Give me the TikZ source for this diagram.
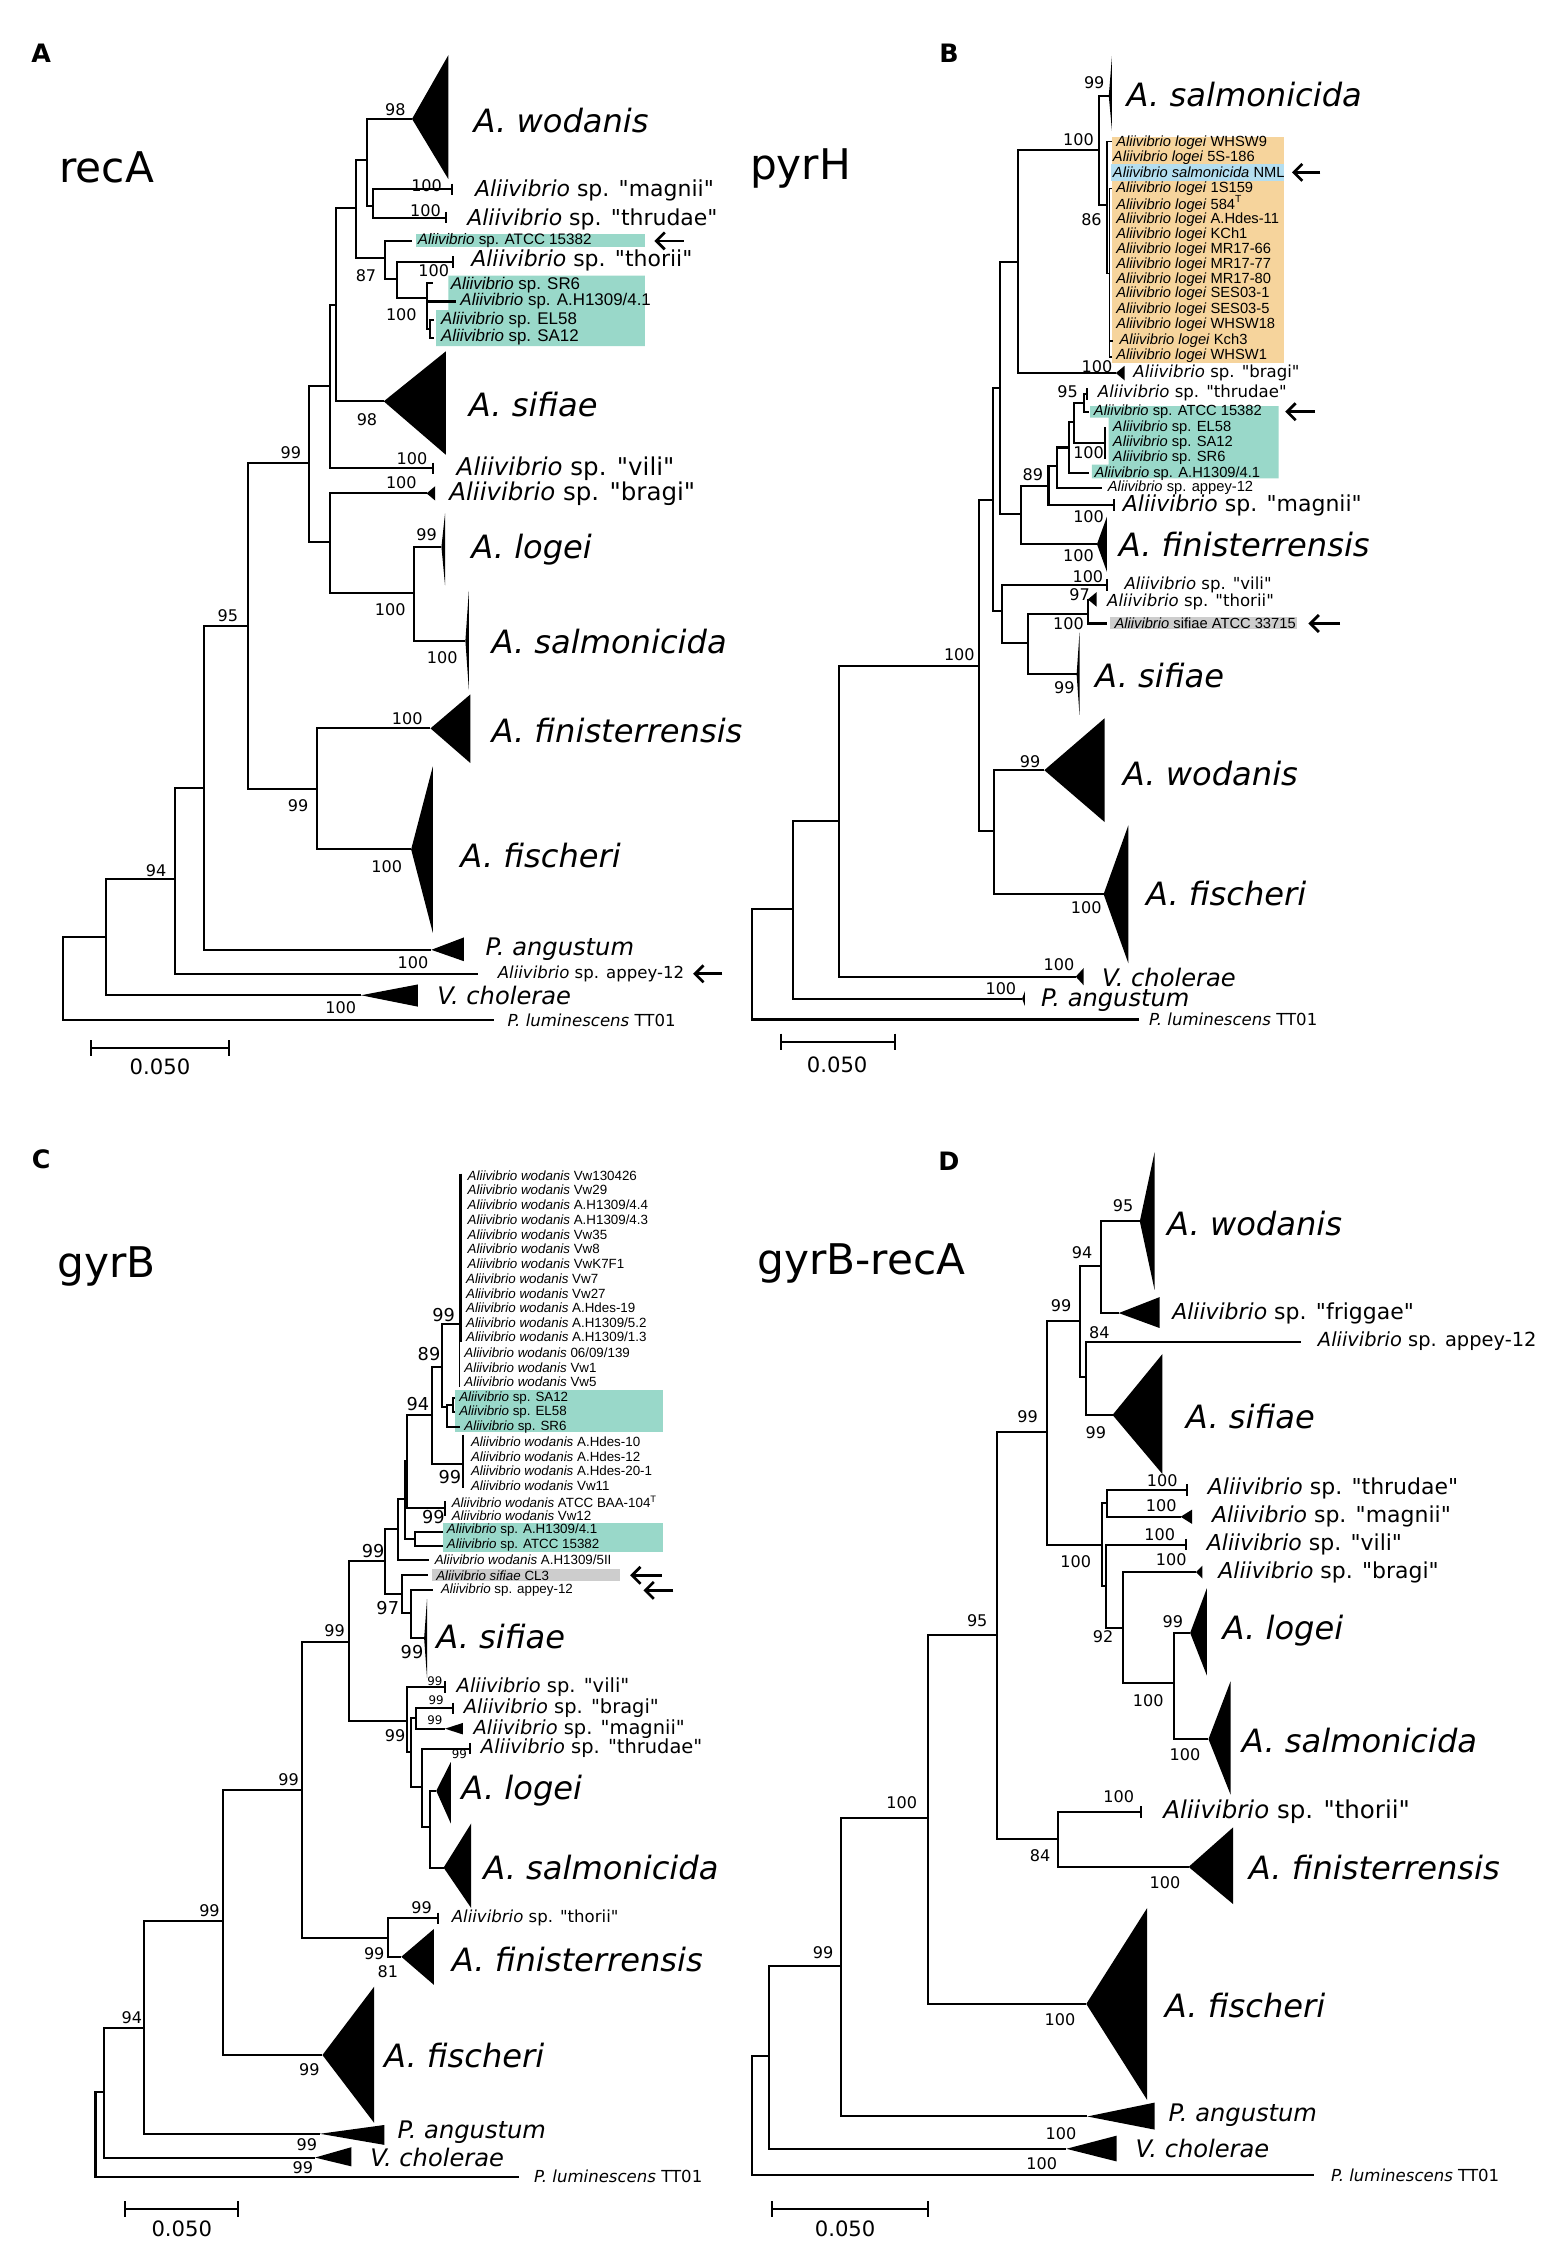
\documentclass[tikz,border=0pt]{standalone}
\usepackage{fontspec}
\setmainfont{DejaVu Sans}
\newfontfamily\arialf{Liberation Sans}
\usepackage{tikz}
\usetikzlibrary{arrows.meta}
\definecolor{grn}{RGB}{153,216,201}
\definecolor{orng}{RGB}{246,212,156}
\definecolor{blu}{RGB}{180,222,240}
\definecolor{gry}{RGB}{205,205,205}
\newcommand{\Aliiv}{\textit{Aliivibrio}}
\newcommand{\Awod}{\textit{Aliivibrio wodanis}}
\newcommand{\Alog}{\textit{Aliivibrio logei}}
\newcommand{\qu}[1]{\textquotedbl{}#1\textquotedbl{}}
% collapsed clade: apex, right x, top y, bottom y
\newcommand{\clade}[4]{\fill (#1) -- (#2,#3) -- (#2,#4) -- cycle;}

\begin{document}
\begin{tikzpicture}[x=0.03cm,y=-0.03cm
  ,line width=1.2pt
  ,lab/.style={anchor=west,inner sep=0pt}
  ,big/.style={lab,font=\fontsize{19}{20}\selectfont\itshape}
  ,mid/.style={lab,font=\fontsize{13}{14}\selectfont}
  ,midL/.style={lab,font=\fontsize{14.5}{15}\selectfont}
  ,midS/.style={lab,font=\fontsize{11.5}{12}\selectfont}
  ,sml/.style={lab,font=\fontsize{9.8}{10}\selectfont}
  ,genus/.style={lab,font=\fontsize{14.3}{15}\selectfont\itshape}
  ,strA/.style={lab,font=\arialf\fontsize{9}{10}\selectfont}
  ,strL/.style={lab,font=\arialf\fontsize{10}{10}\selectfont}
  ,strB/.style={lab,font=\arialf\fontsize{8.7}{9}\selectfont}
  ,strC/.style={lab,font=\arialf\fontsize{7.9}{8}\selectfont}
  ,bs/.style={inner sep=0pt,font=\fontsize{9.5}{10}\selectfont}
  ,bsL/.style={inner sep=0pt,font=\fontsize{10.5}{11}\selectfont}
  ,bsS/.style={inner sep=0pt,font=\fontsize{7}{7}\selectfont}
  ,panel/.style={font=\fontsize{15}{16}\selectfont\bfseries}
  ,gene/.style={font=\fontsize{25}{26}\selectfont}
  ,scl/.style={font=\fontsize{12.5}{13}\selectfont}
  ,pointer/.style={-{Straight Barb[length=5pt,width=10pt]},line width=1.6pt}
  ,tipbar/.pic={\draw (0,-4) -- (0,4);}
  ,smalltri/.pic={\fill (0,0) -- (6,-5) -- (6,5) -- cycle;}
  ]
\fill[white] (0,0) rectangle (1083,1568);
\useasboundingbox (0,0) rectangle (1083,1568);

%%%%% A: recA
\node[panel] (aLet) at (28.6,37) {A};
\node[gene] (aGene) at (74,116) {recA};
\fill[grn] (288.3,162.4) rectangle (447,171.4);
\fill[grn] (310.8,191) -- (447,191) -- (447,240) -- (302.4,240)
  -- (302.4,215) -- (310.8,215) -- cycle;
% inner nodes
\coordinate (aRoot) at (43.7,678);
\coordinate (aN94) at (73.3,649.5);
\coordinate (aN121) at (121.6,609.5);
\coordinate (aN95) at (141.1,546.2);
\coordinate (aN172) at (172,433.6);
\coordinate (aN214) at (214.4,321.2);
\coordinate (aN228) at (228.5,267.4);
\coordinate (aN233) at (232.9,211.3);
\coordinate (aN247) at (247,144);
\coordinate (aN254) at (254.4,111);
\coordinate (aNmt) at (258.7,142.5);
\coordinate (aN87) at (267,179);
\coordinate (aNth) at (274.9,193.4);
\coordinate (aNsr) at (295.7,206.5);
\coordinate (aNes) at (298.4,228);
\coordinate (aNbr) at (228.5,375.4);
\coordinate (aNls) at (287.3,410.8);
\coordinate (aN220) at (220,546.7);
% tips
\coordinate (aWod) at (285.6,82.4);
\coordinate (aMag) at (313.5,131.3);
\coordinate (aThr) at (309.1,150.9);
\coordinate (aAtc) at (285.6,167);
\coordinate (aTho) at (314.2,181.5);
\coordinate (aSR6) at (300,196.3);
\coordinate (aAH) at (315.9,209);
\coordinate (aEL) at (300.5,222);
\coordinate (aSA) at (300.5,234);
\coordinate (aSif) at (266,278.2);
\coordinate (aVil) at (300,324.7);
\coordinate (aBra) at (295.7,342);
\coordinate (aLog) at (306,379.1);
\coordinate (aSal) at (322.6,444.2);
\coordinate (aFin) at (298.4,504.9);
\coordinate (aFis) at (285,588.8);
\coordinate (aAng) at (299,658.4);
\coordinate (aApp) at (331,675);
\coordinate (aCho) at (250.3,689.9);
\coordinate (aLum) at (342.7,707.2);
% branches
\draw (aRoot) |- (aN94) (aRoot) |- (aLum)
  (aN94) |- (aN121) (aN94) |- (aCho)
  (aN121) |- (aN95) (aN121) |- (aApp)
  (aN95) |- (aN172) (aN95) |- (aAng)
  (aN172) |- (aN214) (aN172) |- (aN220)
  (aN220) |- (aFin) (aN220) |- (aFis)
  (aN214) |- (aN228) (aN214) |- (aNbr)
  (aNbr) |- (aBra) (aNbr) |- (aNls)
  (aNls) |- (aLog) (aNls) |- (aSal)
  (aN228) |- (aN233) (aN228) |- (aVil)
  (aN233) |- (aN247) (aN233) |- (aSif)
  (aN247) |- (aN254) (aN247) |- (aN87)
  (aN254) |- (aWod) (aN254) |- (aNmt)
  (aNmt) |- (aMag) (aNmt) |- (aThr)
  (aN87) |- (aAtc) (aN87) |- (aNth)
  (aNth) |- (aTho) (aNth) |- (aNsr)
  (aNsr) |- (aSR6) (aNsr) |- (aAH) (aNsr) |- (aNes)
  (aNes) |- (aEL) (aNes) |- (aSA);
\clade{aWod}{310.8}{38.2}{124.2}
\clade{aSif}{309}{243.6}{315.2}
\clade{aLog}{308.5}{355.8}{405.8}
\clade{aSal}{325}{409.5}{478.1}
\clade{aFin}{326}{481.4}{528.9}
\clade{aFis}{300}{531.4}{646.5}
\clade{aAng}{321.6}{649.8}{666.3}
\clade{aCho}{289.7}{682.4}{697.8}
\pic at (aBra) {smalltri};
\pic at (aMag) {tipbar}; \pic at (aThr) {tipbar};
\pic at (aTho) {tipbar}; \pic at (aVil) {tipbar};
% labels
\node[big] (aWodL) at (327.6,83.6) {A. wodanis};
\node[mid] (aMagL) at (328.6,131.8) {\Aliiv{} sp. \qu{magnii}};
\node[mid] (aThrL) at (323.2,152.1) {\Aliiv{} sp. \qu{thrudae}};
\node[strA] (aAtcL) at (289,167) {\Aliiv{} sp. ATCC 15382};
\node[mid] (aThoL) at (326,180.3) {\Aliiv{} sp. \qu{thorii}};
\node[strL] (aSR6L) at (311.8,197.5) {\Aliiv{} sp. SR6};
\node[strL] (aAHL) at (318.5,209) {\Aliiv{} sp. A.H1309/4.1};
\node[strL] (aELL) at (305,222) {\Aliiv{} sp. EL58};
\node[strL] (aSAL) at (305,234) {\Aliiv{} sp. SA12};
\node[big] (aSifL) at (324.3,280.6) {A. sifiae};
\node[midL] (aVilL) at (315.9,324.7) {\Aliiv{} sp. \qu{vili}};
\node[midL] (aBraL) at (310.8,342) {\Aliiv{} sp. \qu{bragi}};
\node[big] (aLogL) at (326,380.8) {A. logei};
\node[big] (aSalL) at (340,444.7) {A. salmonicida};
\node[big] (aFinL) at (340,506.6) {A. finisterrensis};
\node[big] (aFisL) at (318.5,593.3) {A. fischeri};
\node[genus] (aAngL) at (336,657.7) {P. angustum};
\node[sml] (aAppL) at (344.4,675) {\Aliiv{} sp. appey-12};
\node[genus] (aChoL) at (302.4,689.9) {V. cholerae};
\node[sml] (aLumL) at (351.1,707.2) {\textit{P. luminescens} TT01};
% support values
\node[bs] (aB1) at (274,76) {98}; \node[bs] (aB2) at (295.7,128.5) {100};
\node[bs] (aB3) at (295,145.7) {100}; \node[bs] (aB4) at (253.7,191) {87};
\node[bs] (aB5) at (300.7,187.4) {100}; \node[bs] (aB6) at (278.2,217.8) {100};
\node[bs] (aB7) at (254.4,290.8) {98}; \node[bs] (aB8) at (285.6,317.6) {100};
\node[bs] (aB9) at (278.2,334.3) {100}; \node[bs] (aB10) at (201.6,314) {99};
\node[bs] (aB11) at (295.7,370.9) {99}; \node[bs] (aB12) at (270.5,422.4) {100};
\node[bs] (aB13) at (306.5,455.8) {100}; \node[bs] (aB14) at (157.9,426.9) {95};
\node[bs] (aB15) at (282.3,498) {100}; \node[bs] (aB16) at (206.7,558.6) {99};
\node[bs] (aB17) at (268.1,600.7) {100}; \node[bs] (aB18) at (286.3,667.6) {100};
\node[bs] (aB19) at (108.2,603.2) {94}; \node[bs] (aB20) at (236.2,698.5) {100};
% arrows
\coordinate (aP1) at (473.8,167); \coordinate (aP1t) at (453.6,167);
\coordinate (aP2) at (500.7,675); \coordinate (aP2t) at (480.5,675);
\draw[pointer] (aP1) -- (aP1t);
\draw[pointer] (aP2) -- (aP2t);
% scale bar
\coordinate (aSb0) at (63.2,726.5); \coordinate (aSb1) at (158.9,726.5);
\draw (aSb0) -- (aSb1);
\draw (aSb0) ++(0,-5.5) -- ++(0,11); \draw (aSb1) ++(0,-5.5) -- ++(0,11);
\node[scl] (aSbL) at (110.9,739.4) {0.050};

%%%%% B: pyrH
\node[panel] (bLet) at (657.8,37) {B};
\node[gene] (bGene) at (554.9,117) {pyrH};
\fill[orng] (770.5,94.8) rectangle (889.8,251.9);
\fill[blu] (770.3,113.7) rectangle (889.8,125.3);
\fill[grn] (755.7,281.5) -- (886.3,281.5) -- (886.3,331.6) -- (756.9,331.6)
  -- (756.9,322) -- (768.4,322) -- (768.4,289.5) -- (755.7,289.5) -- cycle;
\fill[gry] (769.6,427.6) rectangle (899,436.3);
% inner nodes
\coordinate (bRoot) at (521.1,668);
\coordinate (bN549) at (549.5,630.4);
\coordinate (bN581) at (581.4,569.3);
\coordinate (bN678) at (678.3,461.5);
\coordinate (bNwf) at (688.7,576);
\coordinate (bN688) at (688.2,346.7);
\coordinate (bN692) at (692.9,269.2);
\coordinate (bN705) at (705.8,181.5);
\coordinate (bN762) at (762.1,104.3);
\coordinate (bN767) at (767.3,142);
\coordinate (bN769) at (769.1,189.5);
\coordinate (bN707) at (707.9,356.4);
\coordinate (bN726) at (726.8,337);
\coordinate (bN732) at (732.6,323.1);
\coordinate (bN740) at (740.7,310.2);
\coordinate (bN744) at (744.2,292.4);
\coordinate (bN751) at (751.6,279.2);
\coordinate (bNes) at (766.1,306.9);
\coordinate (bN694) at (694.5,423.4);
\coordinate (bN712) at (712.3,445.9);
\coordinate (bN754) at (754.1,425.4);
% tips
\coordinate (bSal) at (768.6,66.4);
\coordinate (bWH9) at (770.5,98.2);
\coordinate (bS159) at (770.8,130.6);
\coordinate (bKch) at (771.8,236.2);
\coordinate (bWH1) at (770.8,247.3);
\coordinate (bBra) at (773.5,258.6);
\coordinate (bThr) at (753.4,273.2);
\coordinate (bAtc) at (754.6,285.4);
\coordinate (bEL) at (767,296.5);
\coordinate (bSR) at (767,317.3);
\coordinate (bAH) at (754.6,328.2);
\coordinate (bApp) at (763.8,338.1);
\coordinate (bMag) at (772.4,350.1);
\coordinate (bFin) at (760.4,377.2);
\coordinate (bVil) at (767.3,405.6);
\coordinate (bTho) at (754.1,415.5);
\coordinate (bSfA) at (767.3,432.2);
\coordinate (bSif) at (746.3,467.5);
\coordinate (bWod) at (723.9,533.9);
\coordinate (bFis) at (765,619.8);
\coordinate (bCho) at (745.7,677);
\coordinate (bAng) at (708.5,692.3);
\coordinate (bLum) at (789.4,706.7);
% branches
\draw (bRoot) |- (bN549) (bRoot) |- (bLum)
  (bN549) |- (bN581) (bN549) |- (bAng)
  (bN581) |- (bN678) (bN581) |- (bCho)
  (bN678) |- (bN688) (bN678) |- (bNwf)
  (bNwf) |- (bWod) (bNwf) |- (bFis)
  (bN688) |- (bN692) (bN688) |- (bN694)
  (bN692) |- (bN705) (bN692) |- (bN707)
  (bN705) |- (bN762) (bN705) |- (bBra)
  (bN762) |- (bSal) (bN762) |- (bN767)
  (bN707) |- (bN726) (bN707) |- (bFin)
  (bN726) |- (bN732) (bN726) |- (bMag)
  (bN732) |- (bN740) (bN732) |- (bApp)
  (bN740) |- (bN744) (bN740) |- (bAH)
  (bN744) |- (bN751) (bN744) |- (bNes)
  (bN751) |- (bThr) (bN751) |- (bAtc)
  (bNes) |- (bEL) (bNes) |- (bSR)
  (bN694) |- (bVil) (bN694) |- (bN712)
  (bN712) |- (bN754) (bN712) |- (bSif)
  (bN754) |- (bTho) (bN754) |- (bSfA);
\draw[line width=0.9pt] (bN767) |- (bWH9) (bN767) |- (bN769)
  (bN769) |- (bS159) (bN769) |- (bKch) (bN769) |- (bWH1);
\clade{bSal}{770.8}{38.9}{90.7}
\clade{bFin}{767.3}{358.2}{396.4}
\clade{bSif}{748.3}{438.5}{495.5}
\clade{bWod}{765.7}{497.9}{569.8}
\clade{bFis}{782.1}{572.2}{667.6}
\clade{bCho}{751.2}{671}{683}
\clade{bAng}{710.5}{687}{697.5}
\pic at (bBra) {smalltri}; \pic at (bTho) {smalltri};
\pic at (bThr) {tipbar}; \pic at (bMag) {tipbar}; \pic at (bVil) {tipbar};
% labels
\node[big] (bSalL) at (780.3,65.7) {A. salmonicida};
\node[strB] (bL1) at (773.1,98.9) {\Alog{} WHSW9};
\node[strB] (bL2) at (770.8,109.3) {\Alog{} 5S-186};
\node[strB] (bL3) at (770.8,119.5) {\textit{Aliivibrio salmonicida} NML};
\node[strB] (bL4) at (773.1,130.6) {\Alog{} 1S159};
\node[strB] (bL5) at (773.1,141.4) {\Alog{} 584\textsuperscript{T}};
\node[strB] (bL6) at (773.1,152.1) {\Alog{} A.Hdes-11};
\node[strB] (bL7) at (773.1,162.5) {\Alog{} KCh1};
\node[strB] (bL8) at (773.1,172.9) {\Alog{} MR17-66};
\node[strB] (bL9) at (773.1,183.3) {\Alog{} MR17-77};
\node[strB] (bL10) at (773.1,193.7) {\Alog{} MR17-80};
\node[strB] (bL11) at (773.1,203.8) {\Alog{} SES03-1};
\node[strB] (bL12) at (773.1,214.5) {\Alog{} SES03-5};
\node[strB] (bL13) at (773.1,225.3) {\Alog{} WHSW18};
\node[strB] (bL14) at (775.4,236.2) {\Alog{} Kch3};
\node[strB] (bL15) at (773.1,246.8) {\Alog{} WHSW1};
\node[sml] (bBraL) at (785,258.6) {\Aliiv{} sp. \qu{bragi}};
\node[sml] (bThrL) at (760.4,272.7) {\Aliiv{} sp. \qu{thrudae}};
\node[strB] (bAtcL) at (757.6,285.4) {\Aliiv{} sp. ATCC 15382};
\node[strB] (bELL) at (770.8,296.5) {\Aliiv{} sp. EL58};
\node[strB] (bSAL) at (770.8,306.9) {\Aliiv{} sp. SA12};
\node[strB] (bSRL) at (770.8,317.3) {\Aliiv{} sp. SR6};
\node[strB] (bAHL) at (758,328.2) {\Aliiv{} sp. A.H1309/4.1};
\node[strB] (bAppL) at (767.3,338.1) {\Aliiv{} sp. appey-12};
\node[mid] (bMagL) at (777.7,350.6) {\Aliiv{} sp. \qu{magnii}};
\node[big] (bFinL) at (774.8,377.8) {A. finisterrensis};
\node[sml] (bVilL) at (778.8,405.6) {\Aliiv{} sp. \qu{vili}};
\node[sml] (bThoL) at (766.8,417.5) {\Aliiv{} sp. \qu{thorii}};
\node[strB] (bSfAL) at (771.9,432.2) {\Aliiv{} sifiae ATCC 33715};
\node[big] (bSifL) at (758.5,468.2) {A. sifiae};
\node[big] (bWodL) at (777.7,536.3) {A. wodanis};
\node[big] (bFisL) at (793.7,619.3) {A. fischeri};
\node[genus] (bChoL) at (763.2,677.5) {V. cholerae};
\node[genus] (bAngL) at (721,693.6) {P. angustum};
\node[sml] (bLumL) at (795.9,706.7) {\textit{P. luminescens} TT01};
% support values
\node[bs] (bB1) at (758.5,57.3) {99}; \node[bs] (bB2) at (747.6,96.7) {100};
\node[bs] (bB3) at (756.6,152.5) {86}; \node[bs] (bB4) at (760.4,254.2) {100};
\node[bs] (bB5) at (740,271.6) {95}; \node[bs] (bB6) at (754.6,313.9) {100};
\node[bs] (bB7) at (716,328.9) {89}; \node[bs] (bB8) at (754.6,357.8) {100};
\node[bs] (bB9) at (747.6,385.5) {100}; \node[bs] (bB10) at (754.1,399.4) {100};
\node[bs] (bB11) at (748.3,412.5) {97}; \node[bs] (bB12) at (740.7,432.2) {100};
\node[bs] (bB13) at (737.8,476.4) {99}; \node[bs] (bB14) at (665,454.1) {100};
\node[bs] (bB15) at (714.1,527.7) {99}; \node[bs] (bB16) at (753,629.2) {100};
\node[bs] (bB17) at (734.1,668.8) {100}; \node[bs] (bB18) at (693.8,685.4) {100};
% arrows
\coordinate (bP1) at (915.2,119.5); \coordinate (bP1t) at (895.6,119.5);
\coordinate (bP2) at (911.7,285.4); \coordinate (bP2t) at (890.9,285.4);
\coordinate (bP3) at (929,432.2); \coordinate (bP3t) at (907,432.2);
\draw[pointer] (bP1) -- (bP1t);
\draw[pointer] (bP2) -- (bP2t);
\draw[pointer] (bP3) -- (bP3t);
% scale bar
\coordinate (bSb0) at (541.5,722); \coordinate (bSb1) at (620.7,722);
\draw (bSb0) -- (bSb1);
\draw (bSb0) ++(0,-5.5) -- ++(0,11); \draw (bSb1) ++(0,-5.5) -- ++(0,11);
\node[scl] (bSbL) at (580.3,738.2) {0.050};

%%%%% C: gyrB
\node[panel] (cLet) at (28.6,803.7) {C};
\node[gene] (cGene) at (73.9,878) {gyrB};
\fill[grn] (315.4,963.8) rectangle (459.9,992.7);
\fill[grn] (307.3,1055.7) rectangle (459.9,1075.8);
\fill[gry] (299.3,1087.8) rectangle (429.8,1096.1);
% inner nodes
\coordinate (cRoot) at (66.2,1480);
\coordinate (cN72) at (72.2,1450.3);
\coordinate (cN100) at (100.1,1405.9);
\coordinate (cN154) at (154.6,1331.4);
\coordinate (cN209) at (209.3,1240.9);
\coordinate (cN268) at (268.8,1343.1);
\coordinate (cN241) at (241.9,1138);
\coordinate (cNa) at (282.3,1193);
\coordinate (cNb) at (285,1214.5);
\coordinate (cNc) at (288.3,1191);
\coordinate (cNd) at (292.3,1238.7);
\coordinate (cNe) at (298.4,1266.7);
\coordinate (cN267) at (267.1,1082.3);
\coordinate (cN279) at (278.9,1105);
\coordinate (cN285) at (284.9,1118.3);
\coordinate (cN276) at (276.2,1060);
\coordinate (cN280) at (280.6,1039);
\coordinate (cN287) at (287.5,1067);
\coordinate (cN282) at (282.3,1013);
\coordinate (cN299) at (299.2,980.8);
\coordinate (cNbaa) at (308.2,1045.2);
\coordinate (cN306) at (306.2,947.4);
\coordinate (cNhd) at (320.9,1014.6);
\coordinate (cNw) at (319.5,917.5);
\coordinate (cNsa) at (309.7,975.3);
\coordinate (cNse) at (314.3,973.8);
% tips
\coordinate (cSA) at (315.5,968.8);
\coordinate (cEL) at (315.5,978.8);
\coordinate (cSR) at (318.9,989.2);
\coordinate (cAH) at (307.3,1061.9);
\coordinate (cAtc) at (307.3,1071.9);
\coordinate (c5II) at (297.4,1081.1);
\coordinate (cCL3) at (297,1091.5);
\coordinate (cApp) at (300.4,1102.2);
\coordinate (cSif) at (294,1135.6);
\coordinate (cVil) at (308.5,1169.5);
\coordinate (cBra) at (314.2,1184.2);
\coordinate (cMag) at (308.5,1198.3);
\coordinate (cThr) at (325.9,1212.1);
\coordinate (cLog) at (302.4,1241.4);
\coordinate (cSal) at (307.5,1294.6);
\coordinate (cTho) at (303.4,1329.8);
\coordinate (cFin) at (278.2,1356.4);
\coordinate (cFis) at (223.5,1424.5);
\coordinate (cAng) at (221.8,1479.1);
\coordinate (cCho) at (218.4,1495.6);
\coordinate (cLum) at (359.5,1508.9);
% branches
\draw (cRoot) |- (cN72) (cRoot) |- (cLum)
  (cN72) |- (cN100) (cN72) |- (cCho)
  (cN100) |- (cN154) (cN100) |- (cAng)
  (cN154) |- (cN209) (cN154) |- (cFis)
  (cN209) |- (cN241) (cN209) |- (cN268)
  (cN268) |- (cTho) (cN268) |- (cFin)
  (cN241) |- (cN267) (cN241) |- (cNa)
  (cNa) |- (cVil) (cNa) |- (cNb)
  (cNb) |- (cNc) (cNb) |- (cNd)
  (cNc) |- (cBra) (cNc) |- (cMag)
  (cNd) |- (cThr) (cNd) |- (cNe)
  (cNe) |- (cLog) (cNe) |- (cSal)
  (cN267) |- (cN276) (cN267) |- (cN279)
  (cN279) |- (cCL3) (cN279) |- (cN285)
  (cN285) |- (cApp) (cN285) |- (cSif)
  (cN276) |- (cN280) (cN276) |- (c5II)
  (cN280) |- (cN282) (cN280) |- (cN287)
  (cN287) |- (cAH) (cN287) |- (cAtc)
  (cN282) |- (cN299) (cN282) |- (cNbaa)
  (cN299) |- (cN306) (cN299) |- (cNhd)
  (cN306) |- (cNw) (cN306) |- (cNsa)
  (cNsa) |- (cNse) (cNsa) |- (cSR)
  (cNse) |- (cSA) (cNse) |- (cEL);
\draw[line width=1.8pt] (319.5,813.5) -- (319.5,930);
\draw[line width=0.8pt] (318.6,930) -- (318.6,961.5);
\draw (cNhd) ++(0,-20.2) -- ++(0,37.2);
\draw (cNbaa) ++(0,-4.5) -- ++(0,9.9);
\clade{cSif}{296}{1108.4}{1163}
\clade{cMag}{320.9}{1194.3}{1202.3}
\clade{cLog}{312.5}{1221.4}{1264}
\clade{cSal}{326.6}{1264}{1322.6}
\clade{cFin}{300.7}{1337.2}{1375.8}
\clade{cFis}{259.4}{1377.1}{1471.6}
\clade{cAng}{266.5}{1473}{1486.8}
\clade{cCho}{243.6}{1488.4}{1501.7}
\pic at (cVil) {tipbar}; \pic at (cBra) {tipbar};
\pic at (cThr) {tipbar}; \pic at (cTho) {tipbar};
% labels
\node[strC] (cL1) at (323.5,814.7) {\Awod{} Vw130426};
\node[strC] (cL2) at (323.5,824.6) {\Awod{} Vw29};
\node[strC] (cL3) at (323.5,835) {\Awod{} A.H1309/4.4};
\node[strC] (cL4) at (323.5,845.4) {\Awod{} A.H1309/4.3};
\node[strC] (cL5) at (323.5,855.6) {\Awod{} Vw35};
\node[strC] (cL6) at (323.5,865.5) {\Awod{} Vw8};
\node[strC] (cL7) at (323.5,875.9) {\Awod{} VwK7F1};
\node[strC] (cL8) at (322.4,886.3) {\Awod{} Vw7};
\node[strC] (cL9) at (322.4,896.7) {\Awod{} Vw27};
\node[strC] (cL10) at (322.4,906.7) {\Awod{} A.Hdes-19};
\node[strC] (cL11) at (322.4,917.1) {\Awod{} A.H1309/5.2};
\node[strC] (cL12) at (322.4,926.8) {\Awod{} A.H1309/1.3};
\node[strC] (cL13) at (321.2,937.6) {\Awod{} 06/09/139};
\node[strC] (cL14) at (321.2,948.1) {\Awod{} Vw1};
\node[strC] (cL15) at (321.2,958) {\Awod{} Vw5};
\node[strC] (cSAL) at (317.7,968.8) {\Aliiv{} sp. SA12};
\node[strC] (cELL) at (317.7,978.8) {\Aliiv{} sp. EL58};
\node[strC] (cSRL) at (321.2,989.2) {\Aliiv{} sp. SR6};
\node[strC] (cL16) at (325.8,999.5) {\Awod{} A.Hdes-10};
\node[strC] (cL17) at (325.8,1009.9) {\Awod{} A.Hdes-12};
\node[strC] (cL18) at (325.8,1019.6) {\Awod{} A.Hdes-20-1};
\node[strC] (cL19) at (325.8,1029.6) {\Awod{} Vw11};
\node[strC] (cL20) at (312.5,1041.1) {\Awod{} ATCC BAA-104\textsuperscript{T}};
\node[strC] (cL21) at (312.5,1051) {\Awod{} Vw12};
\node[strC] (cAHL) at (309.1,1060.8) {\Aliiv{} sp. A.H1309/4.1};
\node[strC] (cAtcL) at (309.1,1071.2) {\Aliiv{} sp. ATCC 15382};
\node[strC] (c5IIL) at (300.7,1081.1) {\Awod{} A.H1309/5II};
\node[strC] (cCL3L) at (301.7,1092) {\textit{Aliivibrio sifiae} CL3};
\node[strC] (cAppL) at (305,1102.4) {\Aliiv{} sp. appey-12};
\node[big] (cSifL) at (301.7,1134.4) {A. sifiae};
\node[midS] (cVilL) at (315.9,1169.5) {\Aliiv{} sp. \qu{vili}};
\node[midS] (cBraL) at (320.9,1184.2) {\Aliiv{} sp. \qu{bragi}};
\node[midS] (cMagL) at (327.6,1198.3) {\Aliiv{} sp. \qu{magnii}};
\node[midS] (cThrL) at (332.7,1212.1) {\Aliiv{} sp. \qu{thrudae}};
\node[big] (cLogL) at (319.2,1241.4) {A. logei};
\node[big] (cSalL) at (334.3,1294.6) {A. salmonicida};
\node[sml] (cThoL) at (312.5,1329.8) {\Aliiv{} sp. \qu{thorii}};
\node[big] (cFinL) at (312.5,1358.5) {A. finisterrensis};
\node[big] (cFisL) at (265.5,1425.1) {A. fischeri};
\node[genus] (cAngL) at (274.9,1478.3) {P. angustum};
\node[genus] (cChoL) at (256,1495.6) {V. cholerae};
\node[sml] (cLumL) at (369.6,1508.9) {\textit{P. luminescens} TT01};
% support values
\node[bsL] (cB1) at (307.5,911.5) {99}; \node[bsL] (cB2) at (297.4,938.7) {89};
\node[bsL] (cB3) at (289.7,973.4) {94}; \node[bsL] (cB4) at (311.8,1024.1) {99};
\node[bsL] (cB5) at (300.4,1051.5) {99}; \node[bsL] (cB6) at (258.7,1074.9) {99};
\node[bsL] (cB7) at (268.8,1114.5) {97}; \node[bsL] (cB8) at (285.6,1145.5) {99};
\node[bs] (cB9) at (231.9,1130.6) {99}; \node[bs] (cB10) at (273.9,1202.8) {99};
\node[bsS] (cB11) at (301.4,1165.5) {99}; \node[bsS] (cB12) at (302.4,1178.8) {99};
\node[bsS] (cB13) at (301.4,1192.2) {99}; \node[bsS] (cB14) at (318.5,1216.1) {99};
\node[bs] (cB15) at (292.3,1322.6) {99}; \node[bs] (cB16) at (259.4,1354.5) {99};
\node[bs] (cB17) at (268.8,1366.5) {81}; \node[bs] (cB18) at (200,1233.4) {99};
\node[bs] (cB19) at (145.2,1324.4) {99}; \node[bs] (cB20) at (214.4,1434.4) {99};
\node[bs] (cB21) at (91.4,1398.4) {94}; \node[bs] (cB22) at (212.7,1486.8) {99};
\node[bs] (cB23) at (210,1502.8) {99};
% arrows
\coordinate (cP1) at (458.7,1092); \coordinate (cP1t) at (436.8,1092);
\coordinate (cP2) at (466.8,1102.4); \coordinate (cP2t) at (446,1102.4);
\draw[pointer] (cP1) -- (cP1t);
\draw[pointer] (cP2) -- (cP2t);
% scale bar
\coordinate (cSb0) at (86.7,1531.5); \coordinate (cSb1) at (164.7,1531.5);
\draw (cSb0) -- (cSb1);
\draw (cSb0) ++(0,-5.5) -- ++(0,11); \draw (cSb1) ++(0,-5.5) -- ++(0,11);
\node[scl] (cSbL) at (126,1544.8) {0.050};

%%%%% D: gyrB-recA
\node[panel] (dLet) at (657.8,805) {D};
\node[gene,anchor=west] (dGene) at (520.4,875.6) {gyrB-recA};
% inner nodes
\coordinate (dRoot) at (521.1,1466);
\coordinate (dN533) at (533.1,1425.1);
\coordinate (dN583) at (583.3,1362.5);
\coordinate (dN643) at (643.2,1260);
\coordinate (dN691) at (691.2,1133.1);
\coordinate (dN733) at (733.7,1274.7);
\coordinate (dN725) at (725.8,992.4);
\coordinate (dN748) at (748.6,915.9);
\coordinate (dN763) at (763.2,877.5);
\coordinate (dN753) at (753,954.3);
\coordinate (dNq) at (763.9,1071.2);
\coordinate (dNp) at (767.5,1042);
\coordinate (dNr) at (766.8,1099.5);
\coordinate (dN778) at (778.4,1128.2);
\coordinate (dN814) at (814.1,1166.9);
% tips
\coordinate (dWod) at (790.1,846.6);
\coordinate (dFri) at (775.5,910.2);
\coordinate (dApp) at (902,930);
\coordinate (dSif) at (771.2,980.8);
\coordinate (dThr) at (822.8,1032.8);
\coordinate (dMag) at (818.4,1051.4);
\coordinate (dVil) at (822.1,1070.7);
\coordinate (dBra) at (829,1089.8);
\coordinate (dLog) at (825,1131.9);
\coordinate (dSal) at (837.7,1205.5);
\coordinate (dTho) at (791.2,1256);
\coordinate (dFin) at (823.9,1294.1);
\coordinate (dFis) at (753,1389.1);
\coordinate (dAng) at (753.7,1467.1);
\coordinate (dCho) at (739.2,1489.5);
\coordinate (dLum) at (911.1,1507.6);
% branches
\draw (dRoot) |- (dN533) (dRoot) |- (dLum)
  (dN533) |- (dN583) (dN533) |- (dCho)
  (dN583) |- (dN643) (dN583) |- (dAng)
  (dN643) |- (dN691) (dN643) |- (dFis)
  (dN691) |- (dN725) (dN691) |- (dN733)
  (dN733) |- (dTho) (dN733) |- (dFin)
  (dN725) |- (dN748) (dN725) |- (dNq)
  (dN748) |- (dN763) (dN748) |- (dN753)
  (dN763) |- (dWod) (dN763) |- (dFri)
  (dN753) |- (dApp) (dN753) |- (dSif)
  (dNq) |- (dNp) (dNq) |- (dNr)
  (dNp) |- (dThr) (dNp) |- (dMag)
  (dNr) |- (dVil) (dNr) |- (dN778)
  (dN778) |- (dBra) (dN778) |- (dN814)
  (dN814) |- (dLog) (dN814) |- (dSal);
\clade{dWod}{800.3}{798.8}{894.1}
\clade{dFri}{803.9}{899.1}{920.6}
\clade{dSif}{805.7}{938.7}{1021.7}
\clade{dMag}{826.4}{1046.4}{1056.4}
\clade{dBra}{833.5}{1085.3}{1094.3}
\clade{dLog}{836.6}{1100.9}{1161.5}
\clade{dSal}{853}{1165.5}{1244}
\clade{dFin}{854.8}{1266.7}{1319.9}
\clade{dFis}{795.2}{1322.6}{1455.7}
\clade{dAng}{800.3}{1457.5}{1476.2}
\clade{dCho}{774.1}{1480.4}{1498.3}
\pic at (dThr) {tipbar}; \pic at (dVil) {tipbar}; \pic at (dTho) {tipbar};
% labels
\node[big] (dWodL) at (808.3,848.3) {A. wodanis};
\node[mid] (dFriL) at (811.9,910.2) {\Aliiv{} sp. \qu{friggae}};
\node[midS] (dAppL) at (912.9,930) {\Aliiv{} sp. appey-12};
\node[big] (dSifL) at (821.4,982) {A. sifiae};
\node[mid] (dThrL) at (836.6,1031.6) {\Aliiv{} sp. \qu{thrudae}};
\node[mid] (dMagL) at (839.5,1051.4) {\Aliiv{} sp. \qu{magnii}};
\node[mid] (dVilL) at (835.9,1070.7) {\Aliiv{} sp. \qu{vili}};
\node[mid] (dBraL) at (843.9,1089.8) {\Aliiv{} sp. \qu{bragi}};
\node[big] (dLogL) at (846.8,1130.6) {A. logei};
\node[big] (dSalL) at (860.2,1206.8) {A. salmonicida};
\node[midL] (dThoL) at (805.7,1256) {\Aliiv{} sp. \qu{thorii}};
\node[big] (dFinL) at (865,1294.6) {A. finisterrensis};
\node[big] (dFisL) at (806.8,1390.5) {A. fischeri};
\node[genus] (dAngL) at (809.4,1466.3) {P. angustum};
\node[genus] (dChoL) at (786.5,1489.5) {V. cholerae};
\node[sml] (dLumL) at (922,1507.6) {\textit{P. luminescens} TT01};
% support values
\node[bs] (dB1) at (778.5,835.9) {95}; \node[bs] (dB2) at (750.1,868.6) {94};
\node[bs] (dB3) at (735.6,905.3) {99}; \node[bs] (dB4) at (762.1,923.8) {84};
\node[bs] (dB5) at (759.6,993.2) {99}; \node[bs] (dB6) at (712.3,982) {99};
\node[bs] (dB7) at (805.7,1026.6) {100}; \node[bs] (dB8) at (805,1044) {100};
\node[bs] (dB9) at (803.9,1063.8) {100}; \node[bs] (dB10) at (811.9,1081.1) {100};
\node[bs] (dB11) at (745.7,1082.3) {100}; \node[bs] (dB12) at (764.6,1134.4) {92};
\node[bs] (dB13) at (813,1124.4) {99}; \node[bs] (dB14) at (795.9,1178.8) {100};
\node[bs] (dB15) at (821.4,1216.1) {100}; \node[bs] (dB16) at (677.4,1123.2) {95};
\node[bs] (dB17) at (775.5,1245.4) {100}; \node[bs] (dB18) at (721,1286.6) {84};
\node[bs] (dB19) at (807.5,1304.7) {100}; \node[bs] (dB20) at (625.1,1249.9) {100};
\node[bs] (dB21) at (734.8,1399.8) {100}; \node[bs] (dB22) at (570.5,1353.2) {99};
\node[bs] (dB23) at (735.5,1478.8) {100}; \node[bs] (dB24) at (722.1,1500.1) {100};
% scale bar
\coordinate (dSb0) at (534.9,1531.5); \coordinate (dSb1) at (643.2,1531.5);
\draw (dSb0) -- (dSb1);
\draw (dSb0) ++(0,-5.5) -- ++(0,11); \draw (dSb1) ++(0,-5.5) -- ++(0,11);
\node[scl] (dSbL) at (585.8,1544.8) {0.050};
\end{tikzpicture}
\end{document}
